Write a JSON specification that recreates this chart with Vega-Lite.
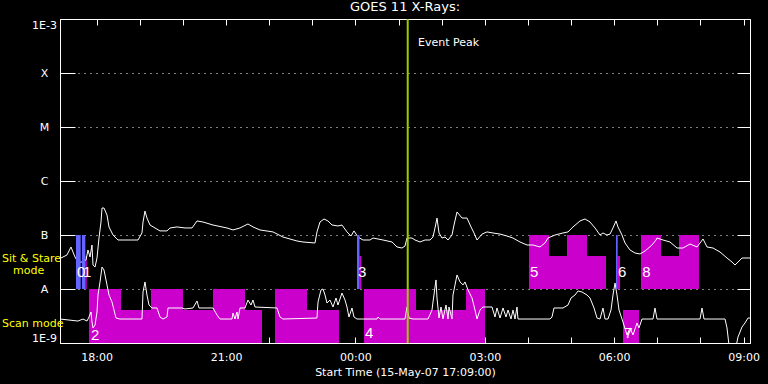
{
  "$schema": "https://vega.github.io/schema/vega-lite/v6.json",
  "width": 690,
  "height": 324,
  "autosize": {"type": "none"},
  "padding": {"left": 60, "top": 19, "right": 18, "bottom": 41},
  "background": "black",
  "title": {"text": "GOES 11 X-Rays:", "color": "white", "font": "DejaVu Sans", "fontSize": 13, "fontWeight": "normal", "offset": 4, "anchor": "middle"},
  "config": {
    "view": {"stroke": "white", "strokeWidth": 1},
    "axis": {"domainColor": "white", "tickColor": "white", "labelColor": "white", "titleColor": "white", "labelFont": "DejaVu Sans", "titleFont": "DejaVu Sans", "labelFontSize": 11, "titleFontSize": 11, "titleFontWeight": "normal", "gridColor": "white", "grid": false}
  },
  "datasets": {
    "blocks": [
      {"t1": 17.822, "t2": 18.565, "lo": 1e-9, "hi": 1e-8},
      {"t1": 18.565, "t2": 19.260, "lo": 1e-9, "hi": 4.08e-9},
      {"t1": 19.260, "t2": 20.002, "lo": 1e-9, "hi": 1e-8},
      {"t1": 20.002, "t2": 20.698, "lo": 1e-9, "hi": 4.08e-9},
      {"t1": 20.698, "t2": 21.440, "lo": 1e-9, "hi": 1e-8},
      {"t1": 21.440, "t2": 21.834, "lo": 1e-9, "hi": 4.08e-9},
      {"t1": 22.136, "t2": 22.878, "lo": 1e-9, "hi": 1e-8},
      {"t1": 22.878, "t2": 23.620, "lo": 1e-9, "hi": 4.08e-9},
      {"t1": 24.199, "t2": 25.405, "lo": 1e-9, "hi": 1e-8},
      {"t1": 25.405, "t2": 26.565, "lo": 1e-9, "hi": 4.08e-9},
      {"t1": 26.565, "t2": 27.005, "lo": 1e-9, "hi": 1e-8},
      {"t1": 30.205, "t2": 30.576, "lo": 1e-9, "hi": 4.08e-9},
      {"t1": 17.737, "t2": 17.770, "lo": 1e-8, "hi": 4.08e-8},
      {"t1": 24.095, "t2": 24.135, "lo": 1e-8, "hi": 4.08e-8},
      {"t1": 28.025, "t2": 28.489, "lo": 1e-8, "hi": 1e-7},
      {"t1": 28.489, "t2": 28.907, "lo": 1e-8, "hi": 4.08e-8},
      {"t1": 28.907, "t2": 29.370, "lo": 1e-8, "hi": 1e-7},
      {"t1": 29.370, "t2": 29.811, "lo": 1e-8, "hi": 4.08e-8},
      {"t1": 30.082, "t2": 30.136, "lo": 1e-8, "hi": 4.08e-8},
      {"t1": 30.622, "t2": 31.086, "lo": 1e-8, "hi": 1e-7},
      {"t1": 31.086, "t2": 31.504, "lo": 1e-8, "hi": 4.08e-8},
      {"t1": 31.504, "t2": 31.967, "lo": 1e-8, "hi": 1e-7}
    ],
    "bars": [
      {"t1": 17.521, "t2": 17.630, "lo": 1e-8, "hi": 1e-7},
      {"t1": 17.660, "t2": 17.737, "lo": 1e-8, "hi": 1e-7},
      {"t1": 24.037, "t2": 24.095, "lo": 1e-8, "hi": 1e-7},
      {"t1": 30.043, "t2": 30.082, "lo": 1e-8, "hi": 1e-7}
    ],
    "nums": [
      {"t": 17.544, "flux": 2.07e-8, "label": "0"},
      {"t": 17.683, "flux": 2.07e-8, "label": "1"},
      {"t": 17.869, "flux": 1.41e-9, "label": "2"},
      {"t": 24.060, "flux": 2.07e-8, "label": "3"},
      {"t": 24.222, "flux": 1.50e-9, "label": "4"},
      {"t": 28.049, "flux": 2.07e-8, "label": "5"},
      {"t": 30.089, "flux": 2.07e-8, "label": "6"},
      {"t": 30.235, "flux": 1.53e-9, "label": "7"},
      {"t": 30.653, "flux": 2.07e-8, "label": "8"}
    ],
    "side": [
      {"t": 15.805, "flux": 3.59e-8, "label": "Sit & Stare"},
      {"t": 16.060, "flux": 2.15e-8, "label": "mode"},
      {"t": 15.805, "flux": 2.25e-9, "label": "Scan mode"}
    ],
    "goes": [
      {"t":17.173,"flux":3.75e-8,"ch":"L"},{"t":17.312,"flux":4.27e-8,"ch":"L"},{"t":17.405,"flux":6.0e-8,"ch":"L"},{"t":17.451,"flux":4.84e-8,"ch":"L"},{"t":17.498,"flux":3.91e-8,"ch":"L"},{"t":17.567,"flux":3.16e-8,"ch":"L"},{"t":17.660,"flux":3.16e-8,"ch":"L"},{"t":17.753,"flux":3.44e-8,"ch":"L"},{"t":17.799,"flux":5.27e-8,"ch":"L"},{"t":17.846,"flux":3.91e-8,"ch":"L"},{"t":17.892,"flux":6.53e-8,"ch":"L"},{"t":17.915,"flux":2.78e-8,"ch":"L"},{"t":17.962,"flux":2.55e-8,"ch":"L"},{"t":18.008,"flux":3.75e-8,"ch":"L"},{"t":18.054,"flux":8.79e-8,"ch":"L"},{"t":18.101,"flux":1.74e-7,"ch":"L"},{"t":18.124,"flux":3.16e-7,"ch":"L"},{"t":18.170,"flux":3.16e-7,"ch":"L"},{"t":18.240,"flux":2.34e-7,"ch":"L"},{"t":18.286,"flux":1.41e-7,"ch":"L"},{"t":18.379,"flux":1.0e-7,"ch":"L"},{"t":18.495,"flux":8.08e-8,"ch":"L"},{"t":18.959,"flux":8.08e-8,"ch":"L"},{"t":19.051,"flux":1.09e-7,"ch":"L"},{"t":19.075,"flux":1.74e-7,"ch":"L"},{"t":19.121,"flux":2.78e-7,"ch":"L"},{"t":19.167,"flux":2.06e-7,"ch":"L"},{"t":19.237,"flux":1.53e-7,"ch":"L"},{"t":19.353,"flux":1.35e-7,"ch":"L"},{"t":19.469,"flux":1.19e-7,"ch":"L"},{"t":19.631,"flux":1.19e-7,"ch":"L"},{"t":19.701,"flux":1.35e-7,"ch":"L"},{"t":19.863,"flux":1.41e-7,"ch":"L"},{"t":20.049,"flux":1.35e-7,"ch":"L"},{"t":20.211,"flux":1.35e-7,"ch":"L"},{"t":20.327,"flux":1.82e-7,"ch":"L"},{"t":20.466,"flux":1.74e-7,"ch":"L"},{"t":20.698,"flux":1.53e-7,"ch":"L"},{"t":21.022,"flux":1.35e-7,"ch":"L"},{"t":21.162,"flux":1.24e-7,"ch":"L"},{"t":21.324,"flux":1.35e-7,"ch":"L"},{"t":21.509,"flux":1.60e-7,"ch":"L"},{"t":21.625,"flux":1.41e-7,"ch":"L"},{"t":21.788,"flux":1.24e-7,"ch":"L"},{"t":22.089,"flux":1.14e-7,"ch":"L"},{"t":22.321,"flux":9.18e-8,"ch":"L"},{"t":22.646,"flux":7.74e-8,"ch":"L"},{"t":22.785,"flux":7.42e-8,"ch":"L"},{"t":23.063,"flux":7.11e-8,"ch":"L"},{"t":23.109,"flux":1.14e-7,"ch":"L"},{"t":23.179,"flux":1.74e-7,"ch":"L"},{"t":23.272,"flux":1.98e-7,"ch":"L"},{"t":23.364,"flux":1.82e-7,"ch":"L"},{"t":23.457,"flux":1.53e-7,"ch":"L"},{"t":23.596,"flux":1.47e-7,"ch":"L"},{"t":23.689,"flux":1.53e-7,"ch":"L"},{"t":23.805,"flux":1.14e-7,"ch":"L"},{"t":23.898,"flux":9.58e-8,"ch":"L"},{"t":23.967,"flux":1.19e-7,"ch":"L"},{"t":24.060,"flux":9.18e-8,"ch":"L"},{"t":24.176,"flux":8.08e-8,"ch":"L"},{"t":24.338,"flux":8.08e-8,"ch":"L"},{"t":24.408,"flux":8.79e-8,"ch":"L"},{"t":24.640,"flux":8.08e-8,"ch":"L"},{"t":24.849,"flux":7.42e-8,"ch":"L"},{"t":24.965,"flux":6.0e-8,"ch":"L"},{"t":25.080,"flux":5.74e-8,"ch":"L"},{"t":25.150,"flux":6.25e-8,"ch":"L"},{"t":25.196,"flux":8.79e-8,"ch":"L"},{"t":25.312,"flux":8.79e-8,"ch":"L"},{"t":25.382,"flux":8.08e-8,"ch":"L"},{"t":25.498,"flux":7.42e-8,"ch":"L"},{"t":25.614,"flux":8.08e-8,"ch":"L"},{"t":25.730,"flux":8.08e-8,"ch":"L"},{"t":25.799,"flux":9.18e-8,"ch":"L"},{"t":25.846,"flux":1.35e-7,"ch":"L"},{"t":25.892,"flux":2.06e-7,"ch":"L"},{"t":25.939,"flux":1.09e-7,"ch":"L"},{"t":26.008,"flux":8.79e-8,"ch":"L"},{"t":26.078,"flux":9.18e-8,"ch":"L"},{"t":26.147,"flux":8.08e-8,"ch":"L"},{"t":26.240,"flux":1.0e-7,"ch":"L"},{"t":26.286,"flux":1.53e-7,"ch":"L"},{"t":26.356,"flux":2.67e-7,"ch":"L"},{"t":26.472,"flux":2.06e-7,"ch":"L"},{"t":26.588,"flux":2.06e-7,"ch":"L"},{"t":26.681,"flux":1.41e-7,"ch":"L"},{"t":26.750,"flux":1.09e-7,"ch":"L"},{"t":26.820,"flux":8.08e-8,"ch":"L"},{"t":26.936,"flux":1.04e-7,"ch":"L"},{"t":27.051,"flux":1.14e-7,"ch":"L"},{"t":27.190,"flux":1.09e-7,"ch":"L"},{"t":27.353,"flux":1.04e-7,"ch":"L"},{"t":27.515,"flux":9.58e-8,"ch":"L"},{"t":27.654,"flux":8.79e-8,"ch":"L"},{"t":27.817,"flux":7.42e-8,"ch":"L"},{"t":27.979,"flux":6.53e-8,"ch":"L"},{"t":28.118,"flux":6.53e-8,"ch":"L"},{"t":28.280,"flux":6.0e-8,"ch":"L"},{"t":28.396,"flux":7.11e-8,"ch":"L"},{"t":28.466,"flux":8.79e-8,"ch":"L"},{"t":28.628,"flux":1.0e-7,"ch":"L"},{"t":28.814,"flux":1.09e-7,"ch":"L"},{"t":28.930,"flux":1.14e-7,"ch":"L"},{"t":29.046,"flux":1.41e-7,"ch":"L"},{"t":29.208,"flux":1.82e-7,"ch":"L"},{"t":29.324,"flux":1.98e-7,"ch":"L"},{"t":29.440,"flux":1.74e-7,"ch":"L"},{"t":29.556,"flux":1.35e-7,"ch":"L"},{"t":29.672,"flux":1.0e-7,"ch":"L"},{"t":29.741,"flux":1.09e-7,"ch":"L"},{"t":29.834,"flux":1.0e-7,"ch":"L"},{"t":29.904,"flux":1.04e-7,"ch":"L"},{"t":29.973,"flux":1.35e-7,"ch":"L"},{"t":30.043,"flux":1.82e-7,"ch":"L"},{"t":30.089,"flux":1.41e-7,"ch":"L"},{"t":30.182,"flux":1.0e-7,"ch":"L"},{"t":30.252,"flux":7.11e-8,"ch":"L"},{"t":30.368,"flux":5.27e-8,"ch":"L"},{"t":30.484,"flux":4.64e-8,"ch":"L"},{"t":30.600,"flux":4.45e-8,"ch":"L"},{"t":30.716,"flux":5.05e-8,"ch":"L"},{"t":30.878,"flux":6.53e-8,"ch":"L"},{"t":30.971,"flux":8.08e-8,"ch":"L"},{"t":30.994,"flux":8.79e-8,"ch":"L"},{"t":31.133,"flux":8.08e-8,"ch":"L"},{"t":31.295,"flux":7.42e-8,"ch":"L"},{"t":31.458,"flux":5.74e-8,"ch":"L"},{"t":31.597,"flux":5.74e-8,"ch":"L"},{"t":31.759,"flux":6.81e-8,"ch":"L"},{"t":31.922,"flux":6.0e-8,"ch":"L"},{"t":32.061,"flux":8.43e-8,"ch":"L"},{"t":32.153,"flux":6.0e-8,"ch":"L"},{"t":32.293,"flux":5.74e-8,"ch":"L"},{"t":32.455,"flux":4.84e-8,"ch":"L"},{"t":32.617,"flux":3.75e-8,"ch":"L"},{"t":32.733,"flux":3.16e-8,"ch":"L"},{"t":32.803,"flux":2.78e-8,"ch":"L"},{"t":32.872,"flux":3.16e-8,"ch":"L"},{"t":32.965,"flux":3.75e-8,"ch":"L"},{"t":33.104,"flux":3.75e-8,"ch":"L"},{"t":33.150,"flux":3.75e-8,"ch":"L"},
      {"t":17.150,"flux":2.78e-9,"ch":"S"},{"t":17.567,"flux":2.55e-9,"ch":"S"},{"t":17.683,"flux":2.78e-9,"ch":"S"},{"t":17.776,"flux":2.55e-9,"ch":"S"},{"t":17.822,"flux":3.03e-9,"ch":"S"},{"t":17.869,"flux":3.75e-9,"ch":"S"},{"t":17.892,"flux":2.45e-9,"ch":"S"},{"t":17.915,"flux":1.90e-9,"ch":"S"},{"t":17.962,"flux":2.15e-9,"ch":"S"},{"t":18.008,"flux":3.75e-9,"ch":"S"},{"t":18.031,"flux":7.74e-9,"ch":"S"},{"t":18.078,"flux":1.35e-8,"ch":"S"},{"t":18.124,"flux":2.55e-8,"ch":"S"},{"t":18.170,"flux":2.25e-8,"ch":"S"},{"t":18.240,"flux":1.19e-8,"ch":"S"},{"t":18.286,"flux":7.74e-9,"ch":"S"},{"t":18.356,"flux":5.74e-9,"ch":"S"},{"t":18.402,"flux":4.08e-9,"ch":"S"},{"t":18.449,"flux":2.90e-9,"ch":"S"},{"t":18.541,"flux":2.78e-9,"ch":"S"},{"t":19.051,"flux":2.78e-9,"ch":"S"},{"t":19.075,"flux":8.8e-9,"ch":"S"},{"t":19.121,"flux":1.35e-8,"ch":"S"},{"t":19.167,"flux":7.74e-9,"ch":"S"},{"t":19.214,"flux":5.05e-9,"ch":"S"},{"t":19.283,"flux":4.45e-9,"ch":"S"},{"t":19.399,"flux":4.45e-9,"ch":"S"},{"t":19.469,"flux":3.03e-9,"ch":"S"},{"t":19.538,"flux":2.78e-9,"ch":"S"},{"t":19.631,"flux":3.03e-9,"ch":"S"},{"t":19.654,"flux":4.45e-9,"ch":"S"},{"t":19.979,"flux":4.45e-9,"ch":"S"},{"t":20.049,"flux":4.27e-9,"ch":"S"},{"t":20.234,"flux":4.45e-9,"ch":"S"},{"t":20.327,"flux":6.0e-9,"ch":"S"},{"t":20.373,"flux":4.45e-9,"ch":"S"},{"t":20.698,"flux":4.45e-9,"ch":"S"},{"t":20.791,"flux":3.30e-9,"ch":"S"},{"t":20.860,"flux":2.78e-9,"ch":"S"},{"t":21.138,"flux":2.78e-9,"ch":"S"},{"t":21.162,"flux":3.59e-9,"ch":"S"},{"t":21.208,"flux":2.78e-9,"ch":"S"},{"t":21.254,"flux":3.75e-9,"ch":"S"},{"t":21.278,"flux":2.78e-9,"ch":"S"},{"t":21.324,"flux":4.45e-9,"ch":"S"},{"t":21.440,"flux":4.45e-9,"ch":"S"},{"t":21.509,"flux":6.25e-9,"ch":"S"},{"t":21.579,"flux":5.05e-9,"ch":"S"},{"t":21.625,"flux":6.25e-9,"ch":"S"},{"t":21.672,"flux":4.64e-9,"ch":"S"},{"t":22.182,"flux":4.45e-9,"ch":"S"},{"t":22.251,"flux":3.03e-9,"ch":"S"},{"t":22.321,"flux":2.78e-9,"ch":"S"},{"t":23.109,"flux":2.90e-9,"ch":"S"},{"t":23.133,"flux":5.74e-9,"ch":"S"},{"t":23.202,"flux":9.58e-9,"ch":"S"},{"t":23.249,"flux":1.0e-8,"ch":"S"},{"t":23.295,"flux":7.74e-9,"ch":"S"},{"t":23.341,"flux":5.5e-9,"ch":"S"},{"t":23.411,"flux":6.25e-9,"ch":"S"},{"t":23.481,"flux":4.64e-9,"ch":"S"},{"t":23.550,"flux":6.81e-9,"ch":"S"},{"t":23.596,"flux":5.05e-9,"ch":"S"},{"t":23.689,"flux":8.43e-9,"ch":"S"},{"t":23.759,"flux":6.25e-9,"ch":"S"},{"t":23.805,"flux":4.64e-9,"ch":"S"},{"t":23.851,"flux":3.03e-9,"ch":"S"},{"t":23.921,"flux":4.45e-9,"ch":"S"},{"t":23.967,"flux":3.03e-9,"ch":"S"},{"t":24.037,"flux":2.78e-9,"ch":"S"},{"t":24.501,"flux":2.78e-9,"ch":"S"},{"t":24.524,"flux":3.03e-9,"ch":"S"},{"t":24.570,"flux":2.78e-9,"ch":"S"},{"t":25.150,"flux":2.78e-9,"ch":"S"},{"t":25.196,"flux":4.64e-9,"ch":"S"},{"t":25.243,"flux":2.90e-9,"ch":"S"},{"t":25.336,"flux":2.78e-9,"ch":"S"},{"t":25.683,"flux":2.78e-9,"ch":"S"},{"t":25.776,"flux":4.08e-9,"ch":"S"},{"t":25.799,"flux":5.74e-9,"ch":"S"},{"t":25.869,"flux":1.47e-8,"ch":"S"},{"t":25.892,"flux":6.81e-9,"ch":"S"},{"t":25.939,"flux":2.90e-9,"ch":"S"},{"t":25.985,"flux":4.64e-9,"ch":"S"},{"t":26.031,"flux":2.78e-9,"ch":"S"},{"t":26.101,"flux":5.05e-9,"ch":"S"},{"t":26.147,"flux":2.78e-9,"ch":"S"},{"t":26.170,"flux":4.64e-9,"ch":"S"},{"t":26.240,"flux":2.78e-9,"ch":"S"},{"t":26.263,"flux":7.74e-9,"ch":"S"},{"t":26.333,"flux":1.47e-8,"ch":"S"},{"t":26.356,"flux":1.82e-8,"ch":"S"},{"t":26.426,"flux":1.35e-8,"ch":"S"},{"t":26.495,"flux":1.19e-8,"ch":"S"},{"t":26.542,"flux":1.35e-8,"ch":"S"},{"t":26.611,"flux":9.58e-9,"ch":"S"},{"t":26.704,"flux":6.81e-9,"ch":"S"},{"t":26.773,"flux":4.08e-9,"ch":"S"},{"t":26.820,"flux":2.78e-9,"ch":"S"},{"t":26.889,"flux":4.08e-9,"ch":"S"},{"t":26.959,"flux":4.64e-9,"ch":"S"},{"t":27.168,"flux":4.64e-9,"ch":"S"},{"t":27.237,"flux":3.03e-9,"ch":"S"},{"t":27.283,"flux":4.45e-9,"ch":"S"},{"t":27.353,"flux":2.90e-9,"ch":"S"},{"t":27.423,"flux":4.45e-9,"ch":"S"},{"t":27.492,"flux":3.03e-9,"ch":"S"},{"t":27.539,"flux":4.08e-9,"ch":"S"},{"t":27.608,"flux":2.78e-9,"ch":"S"},{"t":27.654,"flux":4.08e-9,"ch":"S"},{"t":27.701,"flux":2.78e-9,"ch":"S"},{"t":27.747,"flux":4.64e-9,"ch":"S"},{"t":27.770,"flux":2.78e-9,"ch":"S"},{"t":28.512,"flux":2.78e-9,"ch":"S"},{"t":28.559,"flux":3.03e-9,"ch":"S"},{"t":28.605,"flux":4.45e-9,"ch":"S"},{"t":28.814,"flux":4.45e-9,"ch":"S"},{"t":28.930,"flux":5.05e-9,"ch":"S"},{"t":29.000,"flux":6.81e-9,"ch":"S"},{"t":29.092,"flux":7.74e-9,"ch":"S"},{"t":29.162,"flux":9.18e-9,"ch":"S"},{"t":29.255,"flux":8.8e-9,"ch":"S"},{"t":29.370,"flux":7.74e-9,"ch":"S"},{"t":29.440,"flux":6.81e-9,"ch":"S"},{"t":29.533,"flux":4.45e-9,"ch":"S"},{"t":29.603,"flux":2.90e-9,"ch":"S"},{"t":29.672,"flux":2.78e-9,"ch":"S"},{"t":29.741,"flux":4.45e-9,"ch":"S"},{"t":29.788,"flux":2.78e-9,"ch":"S"},{"t":29.857,"flux":2.78e-9,"ch":"S"},{"t":29.927,"flux":4.08e-9,"ch":"S"},{"t":29.973,"flux":7.74e-9,"ch":"S"},{"t":30.020,"flux":1.29e-8,"ch":"S"},{"t":30.066,"flux":7.74e-9,"ch":"S"},{"t":30.113,"flux":4.08e-9,"ch":"S"},{"t":30.182,"flux":2.78e-9,"ch":"S"},{"t":30.298,"flux":1.41e-9,"ch":"S"},{"t":30.368,"flux":1.90e-9,"ch":"S"},{"t":30.437,"flux":1.41e-9,"ch":"S"},{"t":30.530,"flux":2.35e-9,"ch":"S"},{"t":30.576,"flux":1.90e-9,"ch":"S"},{"t":30.646,"flux":2.78e-9,"ch":"S"},{"t":30.901,"flux":2.78e-9,"ch":"S"},{"t":30.947,"flux":4.45e-9,"ch":"S"},{"t":30.994,"flux":2.78e-9,"ch":"S"},{"t":31.991,"flux":2.78e-9,"ch":"S"},{"t":32.037,"flux":4.45e-9,"ch":"S"},{"t":32.084,"flux":2.78e-9,"ch":"S"},{"t":32.571,"flux":2.78e-9,"ch":"S"},{"t":32.617,"flux":1.90e-9,"ch":"S"},{"t":32.664,"flux":9e-10,"ch":"S"},{"t":32.803,"flux":7e-10,"ch":"S"},{"t":32.872,"flux":1.29e-9,"ch":"S"},{"t":32.965,"flux":1.98e-9,"ch":"S"},{"t":33.034,"flux":2.35e-9,"ch":"S"},{"t":33.104,"flux":2.90e-9,"ch":"S"},{"t":33.150,"flux":2.90e-9,"ch":"S"}
    ]
  },
  "layer": [
    {
      "data": {"name": "blocks"},
      "mark": {"type": "rect", "color": "#cc00cc"},
      "encoding": {
        "x": {"field": "t1", "type": "quantitative", "scale": {"domain": [17.15, 33.15], "nice": false, "zero": false},
          "axis": {"orient": "bottom", "values": [18,19,20,21,22,23,24,25,26,27,28,29,30,31,32,33], "labelExpr": "datum.value % 3 == 0 ? ((datum.value % 24) < 10 ? '0' : '') + (datum.value % 24) + ':00' : ''", "tickSize": -6, "labelPadding": 14, "labelFlush": false, "labelOverlap": false, "title": "Start Time (15-May-07 17:09:00)", "titlePadding": 4}},
        "x2": {"field": "t2"},
        "y": {"field": "lo", "type": "quantitative", "scale": {"type": "log", "domain": [1e-9, 1e-3], "nice": false},
          "axis": {"orient": "left", "values": [1e-9,1e-8,1e-7,1e-6,1e-5,1e-4,1e-3], "labelExpr": "datum.value < 3e-9 ? '1E-9' : datum.value < 3e-8 ? 'A' : datum.value < 3e-7 ? 'B' : datum.value < 3e-6 ? 'C' : datum.value < 3e-5 ? 'M' : datum.value < 3e-4 ? 'X' : '1E-3'", "tickSize": -15, "labelPadding": 31, "labelAlign": "center", "labelFlush": true, "labelOverlap": false, "grid": true, "gridDash": [1, 5], "gridColor": "white", "title": null}},
        "y2": {"field": "hi"}
      }
    },
    {
      "data": {"name": "goes"},
      "mark": {"type": "line", "color": "white", "strokeWidth": 1, "clip": true},
      "encoding": {
        "x": {"field": "t", "type": "quantitative", "axis": null},
        "y": {"field": "flux", "type": "quantitative",
          "axis": {"orient": "right", "values": [1e-8,1e-7,1e-6,1e-5,1e-4], "labels": false, "tickSize": -13, "title": null, "grid": false}},
        "detail": {"field": "ch"}
      }
    },
    {
      "data": {"name": "bars"},
      "mark": {"type": "rect", "color": "#6464ff"},
      "encoding": {
        "x": {"field": "t1", "type": "quantitative", "axis": null},
        "x2": {"field": "t2"},
        "y": {"field": "lo", "type": "quantitative", "axis": null},
        "y2": {"field": "hi"}
      }
    },
    {
      "data": {"values": [{"t": 25.213}]},
      "mark": {"type": "rule", "color": "#99cc00", "strokeWidth": 2},
      "encoding": {
        "x": {"field": "t", "type": "quantitative",
          "axis": {"orient": "top", "values": [18,19,20,21,22,23,24,25,26,27,28,29,30,31,32,33], "labels": false, "tickSize": -6, "title": null, "grid": false}}
      }
    },
    {
      "data": {"values": [{"t": 25.451, "flux": 3.67e-4, "label": "Event Peak"}]},
      "mark": {"type": "text", "color": "white", "font": "DejaVu Sans", "fontSize": 11, "align": "left", "baseline": "middle"},
      "encoding": {
        "x": {"field": "t", "type": "quantitative", "axis": null},
        "y": {"field": "flux", "type": "quantitative", "axis": null},
        "text": {"field": "label"}
      }
    },
    {
      "data": {"name": "nums"},
      "mark": {"type": "text", "color": "white", "font": "Liberation Sans", "fontSize": 15, "align": "left", "baseline": "middle"},
      "encoding": {
        "x": {"field": "t", "type": "quantitative", "axis": null},
        "y": {"field": "flux", "type": "quantitative", "axis": null},
        "text": {"field": "label"}
      }
    },
    {
      "data": {"name": "side"},
      "mark": {"type": "text", "color": "#ffff00", "font": "DejaVu Sans", "fontSize": 11, "align": "left", "baseline": "middle"},
      "encoding": {
        "x": {"field": "t", "type": "quantitative", "axis": null},
        "y": {"field": "flux", "type": "quantitative", "axis": null},
        "text": {"field": "label"}
      }
    }
  ],
  "resolve": {"axis": {"x": "independent", "y": "independent"}}
}
